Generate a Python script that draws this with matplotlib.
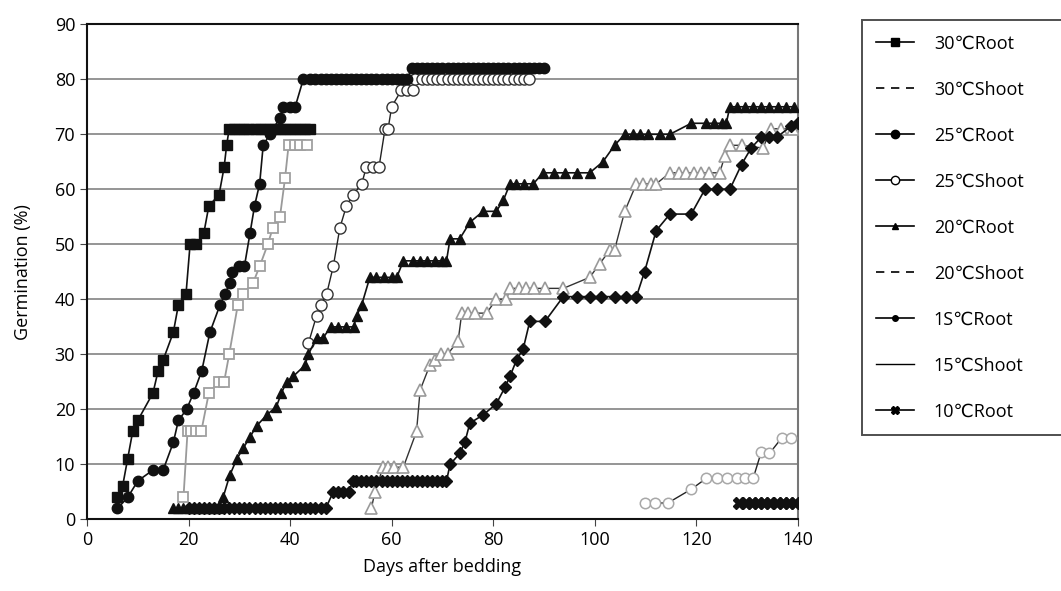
import matplotlib
matplotlib.use('Agg')
import matplotlib.pyplot as plt
from matplotlib.lines import Line2D

plt.rcParams['font.family'] = ['Open Sans', 'DejaVu Sans']

# ---- data (days after bedding, germination %) ----
d30r = [6, 7, 8, 9, 10, 13, 14, 15, 17, 18, 19.5, 20.3, 21.5, 23, 24, 26, 27, 27.5] + list(range(28, 45))
v30r = [4, 6, 11, 16, 18, 23, 27, 29, 34, 39, 41, 50, 50, 52, 57, 59, 64, 68] + [71] * 17

d30s = [19, 19.8, 20.5, 21.5, 22.5, 24, 26, 27, 28, 29.7, 30.7, 32.7, 34, 35.6, 36.6, 38, 39, 39.7, 41, 42, 43.4]
v30s = [4, 16, 16, 16, 16, 23, 25, 25, 30, 39, 41, 43, 46, 50, 53, 55, 62, 68, 68, 68, 68]

d25r = [6, 8, 10, 13, 15, 17, 18, 19.6, 21, 22.6, 24.2, 26.2, 27.2, 28.1, 28.5, 30, 31, 32.1, 33, 34,
        34.7, 36, 38, 38.6, 40, 41, 42.6] + list(range(44, 64)) + list(range(64, 91))
v25r = [2, 4, 7, 9, 9, 14, 18, 20, 23, 27, 34, 39, 41, 43, 45, 46, 46, 52, 57, 61,
        68, 70, 73, 75, 75, 75, 80] + [80] * 20 + [82] * 27

d25s = [43.6, 45.2, 46, 47.2, 48.5, 49.8, 51.1, 52.4, 54.1, 55, 56.4, 57.5, 58.7, 59.3, 60, 61.9, 63,
        64.2, 64.6] + list(range(66, 88))
v25s = [32, 37, 39, 41, 46, 53, 57, 59, 61, 64, 64, 64, 71, 71, 75, 78, 78, 78, 80] + [80] * 22

d20r = list(range(17, 27)) + [26.8, 28.1, 29.5, 30.8, 32.1, 33.4, 35.4, 37.3, 38.3, 39.3, 40.6, 42.9, 43.6,
        45.2, 46.5, 48, 49.5, 51, 52.5, 53.1, 54.1, 55.7, 57, 58.5, 60, 61, 62.3, 64.3, 65.5, 67, 68.5,
        70, 70.8, 71.5, 73.4, 75.4, 78, 80.6, 82, 83.3, 84.5, 86, 87.9, 89.8, 92, 94.1, 96.5, 99,
        101.6, 103.9, 105.9, 107.5, 109, 110.5, 112.8, 114.8, 119, 122, 123.5, 125, 125.9, 126.6, 128,
        129.6, 131.2, 132.8, 134.4, 136, 137.6, 139.3]
v20r = [2] * 10 + [4, 8, 11, 13, 15, 17, 19, 20.5, 23, 25, 26, 28, 30,
        33, 33, 35, 35, 35, 35, 37, 39, 44, 44, 44, 44, 44, 47, 47, 47, 47, 47,
        47, 47, 51, 51, 54, 56, 56, 58, 61, 61, 61, 61, 63, 63, 63, 63, 63,
        65, 68, 70, 70, 70, 70, 70, 70, 72, 72, 72, 72, 72, 75, 75,
        75, 75, 75, 75, 75, 75, 75]

d20s = [56, 56.7, 58.3, 59.3, 60.5, 62.3, 64.9, 65.6, 67.5, 68.5, 69.8, 71, 73.1, 73.8, 75, 76.5, 78.7,
        80.6, 82.6, 83.3, 85, 86.5, 88, 90.2, 93.8, 99, 101, 103, 103.9, 105.9, 108.2, 109.5, 111,
        112.1, 114.8, 116.5, 118, 119.5, 121, 122.5, 124.6, 125.6, 126.6, 128.9, 133.1, 134.8, 136.7, 139]
v20s = [2, 5, 9.5, 9.5, 9.5, 9.5, 16, 23.5, 28, 29, 30, 30, 32.5, 37.5, 37.5, 37.5, 37.5,
        40, 40, 42, 42, 42, 42, 42, 42, 44, 46.5, 49, 49, 56, 61, 61, 61,
        61, 63, 63, 63, 63, 63, 63, 63, 66, 68, 68, 67.5, 71, 71, 71]

d15r = list(range(20, 48)) + [48.5, 49.5, 50.5, 51.5, 52.4] + list(range(53, 71)) + [70.8, 71.5, 73.4,
        74.4, 75.4, 78, 80.6, 82.3, 83.3, 84.6, 85.9, 87.2, 90.2, 93.8, 96.5, 99, 101.3, 103.9, 106.2,
        108.2, 109.8, 112.1, 114.8, 119, 121.7, 124, 126.6, 128.9, 130.8, 132.8, 134.3, 135.9, 138.7, 140]
v15r = [2] * 28 + [5, 5, 5, 5, 7] + [7] * 18 + [7, 10, 12,
        14, 17.5, 19, 21, 24, 26, 29, 31, 36, 36, 40.5, 40.5, 40.5, 40.5, 40.5, 40.5,
        40.5, 45, 52.5, 55.5, 55.5, 60, 60, 60, 64.5, 67.5, 69.5, 69.5, 69.5, 71.5, 72]

d15s = [109.8, 111.8, 114.4, 119, 122, 124, 126, 128, 129.5, 131.2, 132.8, 134.4, 136.8, 138.7]
v15s = [3, 3, 3, 5.5, 7.5, 7.5, 7.5, 7.5, 7.5, 7.5, 12.3, 12, 14.8, 14.8]

d10r = [128.5, 129.7, 131, 132.2, 133.4, 134.6, 135.8, 137, 138.2, 139.5]
v10r = [3] * 10

labels = ['30℃Root', '30℃Shoot', '25℃Root', '25℃Shoot', '20℃Root',
          '20℃Shoot', '1S℃Root', '15℃Shoot', '10℃Root']

fig = plt.figure(figsize=(10.61, 5.91), dpi=100)
ax = fig.add_axes([0.082, 0.121, 0.670, 0.838])

# shoots (open markers) first
ax.plot(d30s, v30s, color='#9a9a9a', lw=1.3, marker='s', ms=7.5, mfc='white', mec='#a0a0a0', mew=1.3, zorder=3)
ax.plot(d25s, v25s, color='#222222', lw=1.0, marker='o', ms=8, mfc='white', mec='#333333', mew=1.0, zorder=3)
ax.plot(d20s, v20s, color='#333333', lw=1.0, marker='^', ms=8, mfc='white', mec='#9a9a9a', mew=1.2, zorder=3)
ax.plot(d15s, v15s, color='#222222', lw=1.0, marker='o', ms=7.5, mfc='white', mec='#a8a8a8', mew=1.1, zorder=3)

# roots (filled markers)
ax.plot(d15r, v15r, color='#111111', lw=1.2, marker='D', ms=6, mfc='#111111', mec='#111111', zorder=4)
ax.plot(d20r, v20r, color='#111111', lw=1.2, marker='^', ms=7.5, mfc='#111111', mec='#111111', zorder=4)
ax.plot(d25r, v25r, color='#111111', lw=1.2, marker='o', ms=7.5, mfc='#111111', mec='#111111', zorder=4)
ax.plot(d30r, v30r, color='#111111', lw=1.2, marker='s', ms=7.5, mfc='#111111', mec='#111111', zorder=5)
ax.plot(d10r, v10r, color='#111111', lw=1.2, marker='X', ms=8.5, mfc='#111111', mec='#111111', zorder=4)

ax.set_xlim(0, 140)
ax.set_ylim(0, 90)
ax.set_xticks(range(0, 141, 20))
ax.set_yticks(range(0, 91, 10))
ax.yaxis.grid(True, color='#8c8c8c', lw=1.3)
ax.set_axisbelow(True)
ax.tick_params(axis='both', labelsize=13, direction='out', length=5, color='#444444')
for side in ['left', 'top', 'bottom']:
    ax.spines[side].set_color('#111111')
    ax.spines[side].set_linewidth(1.5)
ax.spines['right'].set_color('#777777')
ax.spines['right'].set_linewidth(1.5)

ax.set_xlabel('Days after bedding', fontsize=13, labelpad=6)
ax.set_ylabel('Germination (%)', fontsize=13, labelpad=16)

# legend drawn with the look of the original key
handles = [
    Line2D([], [], color='black', lw=1.2, marker='s', ms=6, mfc='black'),
    Line2D([], [], color='black', lw=1.2, ls=(0, (5, 4))),
    Line2D([], [], color='black', lw=1.2, marker='o', ms=6, mfc='black'),
    Line2D([], [], color='black', lw=1.2, marker='o', ms=6, mfc='white'),
    Line2D([], [], color='black', lw=1.2, marker='^', ms=5, mfc='black'),
    Line2D([], [], color='black', lw=1.2, ls=(0, (5, 4))),
    Line2D([], [], color='black', lw=1.2, marker='o', ms=4, mfc='black'),
    Line2D([], [], color='black', lw=1.0),
    Line2D([], [], color='black', lw=1.2, marker='X', ms=6, mfc='black'),
]
leg = fig.legend(handles, labels, loc='upper left', bbox_to_anchor=(0.812, 0.966, 0.25, 0.0),
                 mode='expand', borderaxespad=0, frameon=True, fancybox=False,
                 edgecolor='#222222', fontsize=13, handlelength=2.1, handletextpad=1.1,
                 labelspacing=1.55, borderpad=0.8)
leg.get_frame().set_linewidth(1.4)

fig.savefig('out.png', dpi=100)
